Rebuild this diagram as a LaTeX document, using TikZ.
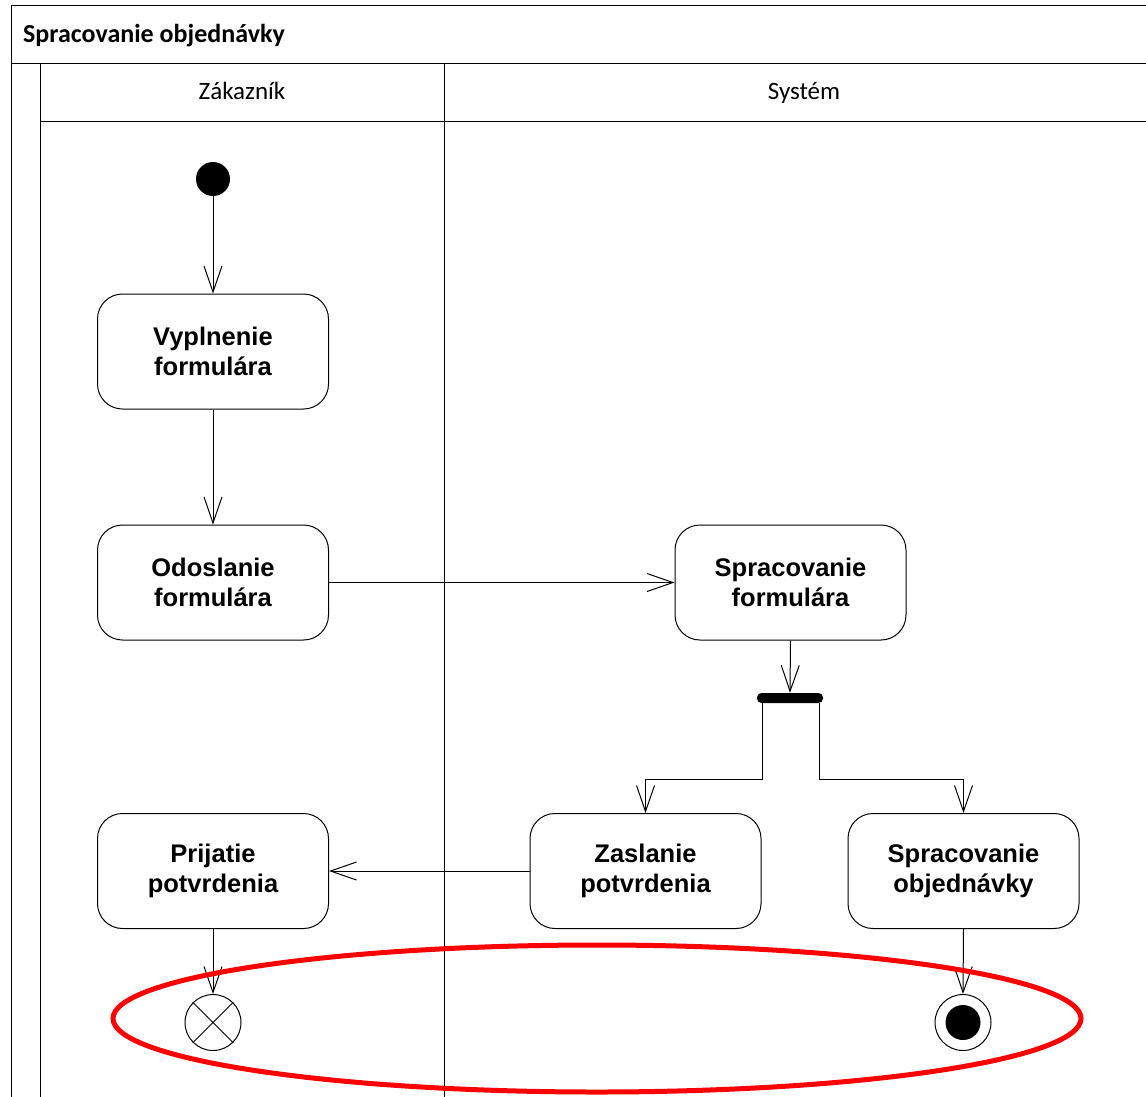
\documentclass[tikz,border=0pt]{standalone}
\usepackage{fontspec}
\setmainfont{Liberation Sans}
\newfontfamily\calibri{Carlito}
\usetikzlibrary{arrows.meta}
\begin{document}
\begin{tikzpicture}[x=1pt,y=-1pt,
  frameline/.style={line width=1pt,draw=black},
  act/.style={draw=black,line width=1pt,rounded corners=25pt,minimum width=231pt,minimum height=115pt,
    align=center,font=\fontsize{25.5}{30}\selectfont\bfseries,inner sep=0pt},
  arr/.style={line width=1pt,-{Straight Barb[length=26pt,width=18pt,line width=1pt]}},
  flow/.style={line width=1pt}]
\useasboundingbox (0,0) rectangle (1146,1096);
\fill[white] (0,0) rectangle (1146,1096);
\begin{scope}
\clip (0,0) rectangle (1146,1096);
% frame
\draw[frameline] (11,1200) -- (11,5) -- (1200,5);
\draw[frameline] (11,63) -- (1200,63);
\draw[frameline] (40,63) -- (40,1200);
\draw[frameline] (444,63) -- (444,1200);
\draw[frameline] (40,121) -- (1200,121);
\end{scope}
\node[anchor=base west,font=\calibri\fontsize{26}{30}\selectfont\bfseries,inner sep=0pt] (title) at (23,42) {Spracovanie objednávky};
\node[anchor=base,font=\calibri\fontsize{25}{30}\selectfont,inner sep=0pt] (lane1) at (242,99) {Zákazník};
\node[anchor=base,font=\calibri\fontsize{25}{30}\selectfont,inner sep=0pt] (lane2) at (804,99) {Systém};

% nodes
\node[circle,fill=black,minimum size=34pt,inner sep=0pt] (init) at (213,179) {};
\node[act] (vyp) at (213,351.5) {Vyplnenie\\formulára};
\node[act] (odo) at (213,582.5) {Odoslanie\\formulára};
\node[act] (spf) at (790.5,582.5) {Spracovanie\\formulára};
\node[fill=black,rounded corners=4.5pt,minimum width=66pt,minimum height=10pt,inner sep=0pt] (fork) at (790,698) {};
\node[act] (pri) at (213,871) {Prijatie\\potvrdenia};
\node[act] (zas) at (645.5,871) {Zaslanie\\potvrdenia};
\node[act] (spo) at (963.5,871) {Spracovanie\\objednávky};
\node[circle,draw=black,line width=1pt,minimum size=56pt,inner sep=0pt] (ffinal) at (213,1022.5) {};
\draw[line width=1pt] (ffinal.north west) -- (ffinal.south east) (ffinal.north east) -- (ffinal.south west);
\node[circle,draw=black,line width=1pt,minimum size=56pt,inner sep=0pt] (afinal) at (963,1022.5) {};
\node[circle,fill=black,minimum size=35pt,inner sep=0pt] (afinalin) at (963,1022.5) {};
\coordinate (forky) at (0,779);

% connectors
\draw[arr] (init) -- (vyp);
\draw[arr] (vyp) -- (odo);
\draw[arr] (odo.east) -- (spf.west);
\draw[arr] (spf.south) -- (fork.north);
\draw[arr] ([xshift=-28pt]fork.south) -- ([xshift=-28pt]fork.south |- forky) -| (zas.north);
\draw[arr] ([xshift=29pt]fork.south) -- ([xshift=29pt]fork.south |- forky) -| (spo.north);
\draw[arr] (zas.west) -- (pri.east);
\draw[arr] (pri.south) -- (ffinal.north);
\draw[arr] (spo.south) -- (afinal.north);

% highlight
\draw[red,line width=5pt] (597,1018.5) ellipse [x radius=484pt,y radius=73.5pt];
\end{tikzpicture}
\end{document}
